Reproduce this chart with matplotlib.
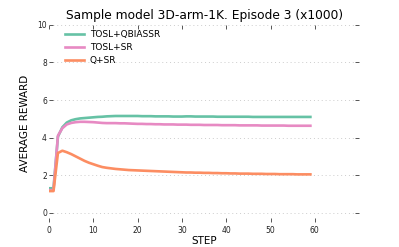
import matplotlib
matplotlib.use("Agg")
import matplotlib.pyplot as plt

steps = list(range(60))
tosl_qbiassr = [1.30, 1.30, 4.05, 4.55, 4.80, 4.92, 4.98, 5.02, 5.04, 5.06,
                5.08, 5.10, 5.11, 5.13, 5.14, 5.15, 5.15, 5.15, 5.15, 5.15,
                5.15, 5.14, 5.14, 5.14, 5.13, 5.13, 5.13, 5.13, 5.12, 5.12,
                5.12, 5.13, 5.13, 5.12, 5.12, 5.12, 5.12, 5.12, 5.11, 5.11,
                5.11, 5.11, 5.11, 5.11, 5.11, 5.11, 5.10, 5.10, 5.10, 5.10,
                5.10, 5.10, 5.10, 5.10, 5.10, 5.10, 5.10, 5.10, 5.10, 5.10]
tosl_sr = [1.20, 1.20, 4.10, 4.50, 4.70, 4.78, 4.82, 4.84, 4.84, 4.83,
           4.82, 4.80, 4.78, 4.77, 4.77, 4.77, 4.76, 4.76, 4.75, 4.74,
           4.73, 4.73, 4.72, 4.72, 4.71, 4.71, 4.70, 4.70, 4.70, 4.69,
           4.69, 4.69, 4.68, 4.68, 4.68, 4.67, 4.67, 4.67, 4.67, 4.66,
           4.66, 4.66, 4.66, 4.65, 4.65, 4.65, 4.65, 4.65, 4.64, 4.64,
           4.64, 4.64, 4.64, 4.64, 4.63, 4.63, 4.63, 4.63, 4.63, 4.63]
q_sr = [1.15, 1.15, 3.18, 3.30, 3.22, 3.12, 3.00, 2.88, 2.76, 2.66,
        2.58, 2.50, 2.43, 2.39, 2.36, 2.33, 2.31, 2.29, 2.27, 2.26,
        2.25, 2.24, 2.23, 2.22, 2.21, 2.20, 2.19, 2.18, 2.17, 2.16,
        2.15, 2.14, 2.14, 2.13, 2.13, 2.12, 2.12, 2.11, 2.11, 2.10,
        2.10, 2.09, 2.09, 2.08, 2.08, 2.08, 2.07, 2.07, 2.07, 2.06,
        2.06, 2.06, 2.05, 2.05, 2.05, 2.05, 2.04, 2.04, 2.04, 2.04]
series_names = ["TOSL+QBIASSR", "TOSL+SR", "Q+SR"]
colors = ["#66c2a5", "#e78ac3", "#fc8d62"]
xticks = [0, 10, 20, 30, 40, 50, 60]
yticks = [0, 2, 4, 6, 8, 10]

fig = plt.figure(figsize=(3.99, 2.47), dpi=100)
ax = fig.add_axes([0.123, 0.101, 0.777, 0.798])
for vals, name, c in zip([tosl_qbiassr, tosl_sr, q_sr], series_names, colors):
    ax.plot(steps, vals, color=c, lw=1.9, label=name)

ax.set_xlim(0, 70)
ax.set_ylim(-0.5, 10)
ax.set_xticks(xticks)
ax.set_yticks(yticks)
for s in ax.spines.values():
    s.set_visible(False)
ax.tick_params(axis="both", labelsize=5.5, labelcolor="#222222", color="#555555",
               length=3, width=0.7, top=True, right=True, direction="in", pad=2.5)
ax.tick_params(axis="x", labeltop=False)
ax.tick_params(axis="y", labelright=False, pad=1.5)
ax.yaxis.grid(True, linestyle=(0, (1, 3)), color="#cccccc", lw=0.7)
ax.set_xlabel("STEP", fontsize=7.5, labelpad=1)
ax.set_ylabel("AVERAGE REWARD", fontsize=7.5, labelpad=5)
ax.set_title("Sample model 3D-arm-1K. Episode 3 (x1000)", fontsize=8.8, pad=4.5)
ax.legend(loc="upper left", frameon=False, fontsize=6.5, handlelength=2.1,
          handletextpad=0.6, borderaxespad=0.2, labelspacing=0.45,
          bbox_to_anchor=(0.035, 1.0))
fig.savefig("out.png", dpi=100)
